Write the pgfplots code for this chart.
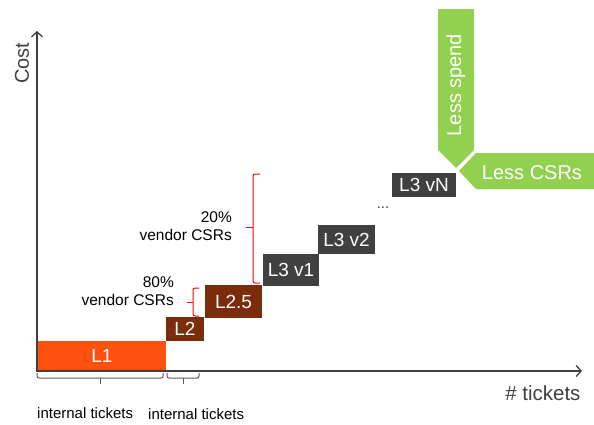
\documentclass[border=0pt]{standalone}
\usepackage{fontspec}
\setmainfont{Liberation Sans}
\usepackage{pgfplots}
\pgfplotsset{compat=1.18}
\usetikzlibrary{arrows.meta}
\definecolor{axgray}{HTML}{404040}
\definecolor{lone}{HTML}{FE500F}
\definecolor{ltwo}{HTML}{7B2C0A}
\definecolor{lthree}{HTML}{404040}
\definecolor{lgreen}{HTML}{92D050}
\definecolor{brgray}{HTML}{595959}
\newcommand{\fs}[1]{\fontsize{#1}{#1}\selectfont}
\begin{document}
\begin{tikzpicture}
\begin{axis}[
  scale only axis, width=594pt, height=424pt,
  xmin=0, xmax=594, ymin=0, ymax=424, y dir=reverse,
  axis lines=none, clip=false, ticks=none]
\path (rel axis cs:0,0) (rel axis cs:1,1);
% green arrows
\addplot[fill=lgreen, draw=none] coordinates {(438,9) (474,9) (474,150) (456,168) (438,150)} -- cycle;
\addplot[fill=lgreen, draw=none] coordinates {(476,153) (594,153) (594,189) (476,189) (459,171)} -- cycle;
% boxes
\addplot[fill=lone, draw=none] coordinates {(37,341) (166,341) (166,370) (37,370)} -- cycle;
\addplot[fill=ltwo, draw=none] coordinates {(166,317) (204,317) (204,341) (166,341)} -- cycle;
\addplot[fill=ltwo, draw=none] coordinates {(205,285) (262,285) (262,318) (205,318)} -- cycle;
\addplot[fill=lthree, draw=none] coordinates {(263,254) (319,254) (319,286) (263,286)} -- cycle;
\addplot[fill=lthree, draw=none] coordinates {(318,225) (375,225) (375,254) (318,254)} -- cycle;
\addplot[fill=lthree, draw=none] coordinates {(392,173) (456,173) (456,197) (392,197)} -- cycle;
% axes
\addplot[axgray, line width=1.5pt, -{Straight Barb[length=5pt,width=11pt,line width=1.3pt]}] coordinates {(37,371) (37,31)};
\addplot[axgray, line width=1.5pt, -{Straight Barb[length=5pt,width=11pt,line width=1.3pt]}] coordinates {(36.25,371) (582,371)};
% gray brackets
\addplot[brgray, line width=1pt, rounded corners=2pt] coordinates {(37,373) (37,378) (163,378) (163,373)};
\addplot[brgray, line width=1pt] coordinates {(100,378) (100,384)};
\addplot[brgray, line width=1pt, rounded corners=2pt] coordinates {(167,373) (167,378) (199,378) (199,373)};
\addplot[brgray, line width=1pt] coordinates {(183,378) (183,384)};
% red brackets
\addplot[red, line width=1pt, rounded corners=2pt] coordinates {(260,174) (253,174) (253,283) (260,283)};
\addplot[red, line width=1pt] coordinates {(253,227) (246,227)};
\addplot[red, line width=1pt, rounded corners=2pt] coordinates {(199,288) (193,288) (193,316) (199,316)};
\addplot[red, line width=1pt] coordinates {(193,302) (187,302)};
% labels
\node[rotate=90, text=axgray, font=\fs{20}] at (axis cs:22,63) {Cost};
\node[anchor=east, text=axgray, font=\fs{20.5}] at (axis cs:584,393) {\# tickets};
\node[anchor=west, font=\fs{15}, inner sep=0pt] at (axis cs:37,413) {internal tickets};
\node[anchor=west, font=\fs{15}, inner sep=0pt] at (axis cs:148,414) {internal tickets};
\node[anchor=east, align=right, font=\fontsize{15.5}{18}\selectfont, inner sep=0pt] at (axis cs:232,226) {20\%\\vendor CSRs};
\node[anchor=east, align=right, font=\fontsize{15.5}{18}\selectfont, inner sep=0pt] at (axis cs:174,291) {80\%\\vendor CSRs};
% box labels
\node[text=white, font=\fs{19}] at (axis cs:102,356) {L1};
\node[text=white, font=\fs{19}] at (axis cs:185,329) {L2};
\node[text=white, font=\fs{19}] at (axis cs:233.5,301.5) {L2.5};
\node[text=white, font=\fs{19}] at (axis cs:291,270) {L3 v1};
\node[text=white, font=\fs{19}] at (axis cs:346.5,239.5) {L3 v2};
\node[text=white, font=\fs{19}] at (axis cs:424,185) {L3 vN};
\node[text=axgray, font=\fs{15}] at (axis cs:383,208) {...};
\node[rotate=90, text=white, font=\fs{20}] at (axis cs:456,85) {Less spend};
\node[text=white, font=\fs{20}] at (axis cs:532,173) {Less CSRs};
\end{axis}
\end{tikzpicture}
\end{document}
